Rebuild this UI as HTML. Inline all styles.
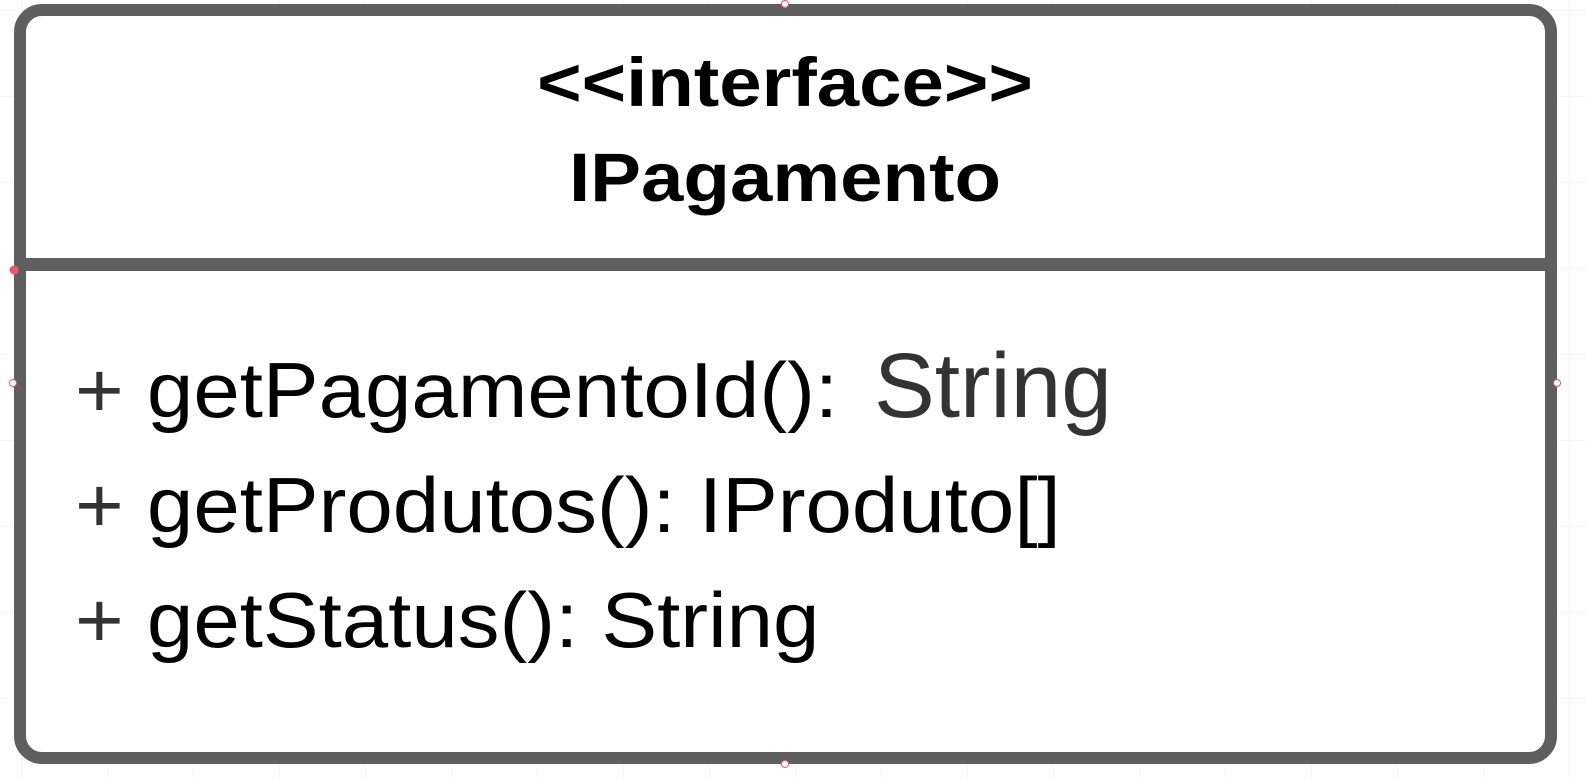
<!DOCTYPE html>
<html><head><meta charset="utf-8"><style>
html,body{margin:0;padding:0;background:#fff;}
body{width:1586px;height:779px;overflow:hidden;}
</style></head><body>
<svg width="1586" height="779" viewBox="0 0 1586 779" xmlns="http://www.w3.org/2000/svg">
<defs>
<pattern id="g" width="86" height="86" patternUnits="userSpaceOnUse" x="21" y="10">
<path d="M0 0H86M0 0V86" stroke="#ececec" stroke-width="1" fill="none"/>
</pattern>
</defs>
<rect width="1586" height="779" fill="url(#g)"/>
<rect x="20" y="10" width="1531" height="748" rx="22" ry="22" fill="#fff" stroke="#5f5f5f" stroke-width="12"/>
<rect x="20" y="258" width="1531" height="13" fill="#5f5f5f"/>
<g font-family="Liberation Sans, Arial, sans-serif" text-anchor="middle" font-weight="bold" fill="#000" transform="translate(785,0) scale(1.105,1)">
<text x="0" y="106" font-size="69">&lt;&lt;interface&gt;&gt;</text>
<text x="0" y="201" font-size="69">IPagamento</text>
</g>
<g font-family="Liberation Sans, Arial, sans-serif" font-size="78" fill="#000" transform="translate(75,0) scale(1.07,1)">
<text x="0" y="417"><tspan fill="#333">+</tspan> getPagamentoId(): </text>
<text x="0" y="532"><tspan fill="#333">+</tspan> getProdutos(): IProduto[]</text>
<text x="0" y="647"><tspan fill="#333">+</tspan> getStatus(): String</text>
</g>
<text font-family="Liberation Sans, Arial, sans-serif" font-size="92" fill="#333" transform="translate(874,417) scale(0.99,1)" x="0" y="0">String</text>
<g stroke="#e85a6a" stroke-width="1" fill="#fff">
<circle cx="785" cy="4" r="3.5"/>
<circle cx="13" cy="383" r="3.5"/>
<circle cx="1557" cy="383" r="3.5"/>
<circle cx="785" cy="764" r="3.5"/>
<circle cx="14" cy="270" r="4" fill="#e85a6a"/>
</g>
</svg>
</body></html>
